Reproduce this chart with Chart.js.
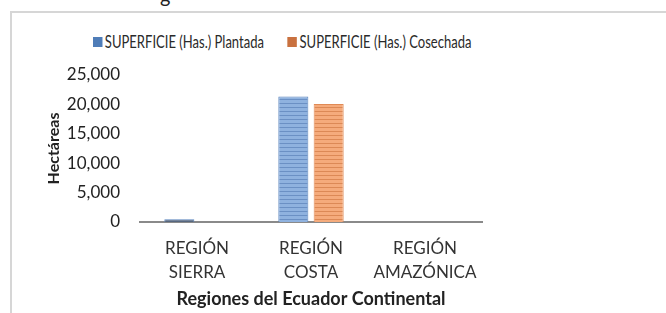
<!DOCTYPE html>
<html>
<head>
<meta charset="utf-8">
<script src="https://cdn.jsdelivr.net/npm/chart.js@4.4.1/dist/chart.umd.min.js"></script>
<style>
    html, body { margin: 0; padding: 0; background: #fff; }
    #wrap { position: relative; width: 666px; height: 313px; overflow: hidden; font-family: Lato, 'Open Sans', sans-serif; }
    #frame { position: absolute; left: 10px; top: 11px; width: 700px; height: 400px; border-left: 2px solid #d6d6d6; border-top: 2px solid #d6d6d6; }
    #cut { position: absolute; left: 160px; top: -17px; font-size: 20px; color: #222; }
    #legend { position: absolute; left: 93px; top: 32px; display: flex; font-size: 16.5px; color: #2a2a2a; transform: scaleX(0.79); transform-origin: left center; }
    #legend .item { display: flex; align-items: center; margin-right: 30px; white-space: nowrap; }
    #legend .box { width: 12px; height: 10px; margin-right: 3px; }
    canvas { position: absolute; left: 0; top: 0; }
</style>
</head>
<body>
<div id="wrap">
    <div id="frame"></div>
    <div id="cut">g</div>
    <div id="legend"></div>
    <canvas id="chart" width="666" height="313"></canvas>
</div>
<script>
// data
const regiones = [['REGIÓN', 'SIERRA'], ['REGIÓN', 'COSTA'], ['REGIÓN', 'AMAZÓNICA']];
const plantada = [480, 21350, 0];
const cosechada = [0, 20050, 0];
const yTicks = [0, 5000, 10000, 15000, 20000, 25000];

const seriesNames = ['SUPERFICIE (Has.) Plantada', 'SUPERFICIE (Has.) Cosechada'];
const legendColors = ['#4f7db8', '#c9713f'];

// striped fill like the original bars
function stripes(base, line) {
    const c = document.createElement('canvas');
    c.width = 4; c.height = 4;
    const g = c.getContext('2d');
    g.fillStyle = base;
    g.fillRect(0, 0, 4, 4);
    g.fillStyle = line;
    g.fillRect(0, 3, 4, 1);
    return g.createPattern(c, 'repeat');
}

const ctx = document.getElementById('chart').getContext('2d');
const blueFill = stripes('#8fb2df', '#6b90c4');
const orangeFill = stripes('#f5ab7c', '#dc8956');

const chart = new Chart(ctx, {
    type: 'bar',
    data: {
        labels: regiones,
        datasets: [
            {
                label: seriesNames[0],
                data: plantada,
                backgroundColor: [stripes('#56677f', '#45566e'), blueFill, blueFill],
                borderColor: '#5b85bd',
                borderWidth: 1,
                borderSkipped: 'bottom'
            },
            {
                label: seriesNames[1],
                data: cosechada,
                backgroundColor: orangeFill,
                borderColor: '#e08a55',
                borderWidth: 1,
                borderSkipped: 'bottom'
            }
        ]
    },
    options: {
        responsive: false,
        animation: false,
        layout: { padding: { left: 10, right: 184, top: 75, bottom: 0 } },
        datasets: { bar: { categoryPercentage: 0.62, barPercentage: 0.85 } },
        plugins: {
            legend: { display: false },
            tooltip: { enabled: false }
        },
        scales: {
            x: {
                grid: { display: false, drawTicks: false },
                border: { display: true, color: '#8a8a8a', width: 2 },
                ticks: {
                    color: '#333',
                    font: { family: 'Lato', size: 17, lineHeight: 1.41 },
                    padding: 15,
                    maxRotation: 0
                },
                title: {
                    display: true,
                    text: 'Regiones del Ecuador Continental',
                    color: '#222',
                    font: { family: 'Lato', size: 18, weight: 'bold' },
                    padding: { top: 4, bottom: 3 }
                },
                afterFit: s => { s.height = 91; }
            },
            y: {
                min: 0,
                max: 25000,
                grid: { display: false, drawTicks: false },
                border: { display: false },
                afterBuildTicks: s => { s.ticks = yTicks.map(v => ({ value: v })); },
                ticks: {
                    color: '#222',
                    font: { family: 'Lato', size: 17 },
                    padding: 20,
                    callback: v => v.toLocaleString('en-US')
                },
                title: {
                    display: true,
                    text: 'Hectáreas',
                    color: '#222',
                    font: { family: 'Lato', size: 16, weight: 'bold' },
                    padding: { top: 34, bottom: 4 }
                },
                afterFit: s => { s.width = 130; }
            }
        }
    }
});

// legend as html, built from the datasets
const legend = document.getElementById('legend');
chart.data.datasets.forEach((ds, i) => {
    const item = document.createElement('div');
    item.className = 'item';
    item.innerHTML = `<span class="box" style="background:${legendColors[i]}"></span>${ds.label}`;
    legend.appendChild(item);
});
</script>
</body>
</html>
